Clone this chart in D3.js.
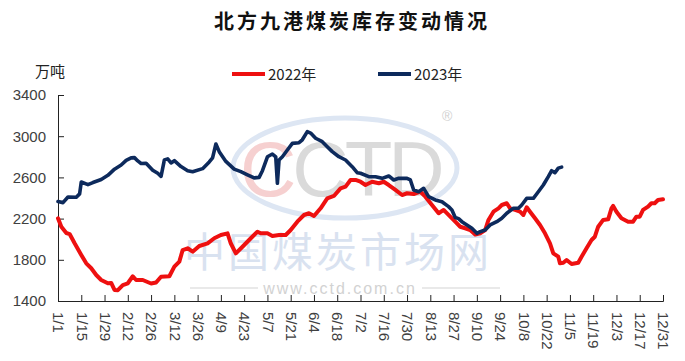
<!DOCTYPE html>
<html><head><meta charset="utf-8">
<script src="https://cdn.jsdelivr.net/npm/d3@7/dist/d3.min.js"></script>
<style>
html,body{margin:0;padding:0;background:#fff;}
svg{display:block;}
</style></head>
<body><svg id="c" width="685" height="361"></svg>
<script>
const title = "北方九港煤炭库存变动情况";
const unitLabel = "万吨";
const seriesNames = ["2022年", "2023年"];
const yTicks = [1400, 1800, 2200, 2600, 3000, 3400];
const xTickLabels = ["1/1","1/15","1/29","2/12","2/26","3/12","3/26","4/9","4/23","5/7","5/21","6/4","6/18","7/2","7/16","7/30","8/13","8/27","9/10","9/24","10/8","10/22","11/5","11/19","12/3","12/17","12/31"];
// day of year (0 = Jan 1) and stock values (10k tonnes)
const days2022 = [0,2,5,7,10,14,17,20,23,26,30,32,34,36,39,42,45,47,51,56,59,62,67,70,73,75,78,81,85,90,94,98,102,104,107,111,116,120,122,126,129,133,137,140,144,148,151,154,158,162,166,170,173,176,179,182,185,189,193,196,199,203,207,210,214,218,221,225,229,232,236,239,242,245,248,251,254,257,259,262,265,267,270,272,275,278,280,282,284,287,290,293,296,298,301,302,304,306,309,313,315,318,321,323,325,328,331,333,334,336,339,343,346,348,350,352,355,357,359,361,364];
const vals2022 = [2203,2120,2060,2050,1960,1847,1766,1718,1652,1604,1572,1575,1507,1505,1555,1572,1640,1604,1604,1570,1580,1636,1640,1733,1782,1895,1912,1879,1934,1960,2009,2041,2057,1958,1863,1927,2009,2073,2057,2057,2031,2041,2041,2089,2170,2235,2252,2225,2300,2397,2420,2494,2510,2575,2575,2558,2526,2558,2543,2558,2526,2478,2429,2446,2439,2461,2413,2332,2252,2284,2219,2170,2121,2106,2089,2045,2057,2089,2187,2267,2300,2332,2349,2300,2284,2267,2235,2310,2267,2203,2138,2057,1960,1863,1830,1766,1772,1798,1759,1772,1830,1912,1992,2024,2121,2187,2193,2300,2323,2267,2203,2170,2170,2219,2219,2284,2316,2349,2349,2381,2388];
const days2023 = [0,3,6,11,13,14,18,21,26,30,34,38,41,44,46,48,50,53,57,60,62,64,66,68,70,74,78,81,87,91,93,95,97,101,106,110,114,118,121,123,126,129,131,132,133,135,138,141,145,147,150,152,155,159,162,165,169,173,177,180,182,187,191,195,199,202,205,210,212,214,217,220,223,227,231,235,237,239,241,243,246,249,252,254,257,260,264,267,270,274,277,279,282,286,289,292,295,297,299,301,303];
const vals2023 = [2365,2355,2410,2408,2440,2555,2530,2550,2580,2620,2680,2720,2765,2790,2792,2760,2735,2737,2670,2640,2610,2770,2780,2740,2762,2705,2665,2655,2685,2750,2790,2924,2850,2755,2680,2656,2625,2595,2600,2665,2800,2827,2800,2543,2769,2800,2866,2930,2937,2965,3044,3030,2980,2947,2898,2850,2801,2769,2704,2646,2640,2607,2607,2591,2614,2575,2591,2591,2575,2478,2461,2494,2413,2381,2364,2316,2284,2210,2200,2170,2138,2106,2057,2073,2089,2138,2170,2203,2252,2300,2300,2332,2397,2397,2461,2526,2607,2665,2645,2690,2700];
const colors = ["#ee1010", "#0d2a5c"];

const svg = d3.select("#c");
const M = {left:58, right:663, top:95, bottom:301};
const x = d3.scaleLinear().domain([0,364]).range([M.left, M.right]);
const y = d3.scaleLinear().domain([1400,3400]).range([M.bottom, M.top]);
const CJK = "'Noto Sans CJK SC','Noto Sans',sans-serif";
const LAT = "'Liberation Sans',Arial,sans-serif";

// watermark
const wm = svg.append("g").attr("pointer-events","none");
wm.append("ellipse").attr("cx",345).attr("cy",168).attr("rx",112).attr("ry",50)
  .attr("fill","none").attr("stroke","#dde6f3").attr("stroke-width",5);
const logo = wm.append("text").attr("x",240).attr("y",196)
  .attr("font-family",LAT).attr("font-size",78).attr("letter-spacing",-4);
[["C","#f6d0d0"],["C","#dadada"],["T","#dadada"],["D","#dadada"]].forEach(d=>{
  logo.append("tspan").text(d[0]).attr("fill",d[1]);
});
wm.append("text").attr("x",442).attr("y",121).text("®").attr("font-family",LAT)
  .attr("font-size",14).attr("fill","#d0d0d0");
wm.append("text").attr("x",184).attr("y",267).text("中国煤炭市场网")
  .attr("font-family",CJK).attr("font-size",41).attr("fill","#d9e2f0").attr("letter-spacing",3);
wm.append("text").attr("x",340).attr("y",294).attr("text-anchor","middle").text("www.cctd.com.cn")
  .attr("font-family",LAT).attr("font-size",16).attr("fill","#d2d2d2").attr("letter-spacing",2);
wm.append("line").attr("x1",190).attr("x2",258).attr("y1",288).attr("y2",288).attr("stroke","#e2e2e2").attr("stroke-width",1.5);
wm.append("line").attr("x1",422).attr("x2",500).attr("y1",288).attr("y2",288).attr("stroke","#e2e2e2").attr("stroke-width",1.5);

// title
svg.append("text").attr("x",352).attr("y",29).attr("text-anchor","middle").text(title)
  .attr("font-family",CJK).attr("font-weight","bold").attr("font-size",20).attr("letter-spacing",3).attr("fill","#111");

// unit
svg.append("text").attr("x",35).attr("y",77).text(unitLabel)
  .attr("font-family",CJK).attr("font-size",15).attr("fill","#222");

// legend
const lg = svg.append("g");
const legendX = [232, 378];
seriesNames.forEach((n,i)=>{
  lg.append("line").attr("x1",legendX[i]).attr("x2",legendX[i]+33).attr("y1",74).attr("y2",74)
    .attr("stroke",colors[i]).attr("stroke-width",4);
  lg.append("text").attr("x",legendX[i]+36).attr("y",80).text(n)
    .attr("font-family",CJK).attr("font-size",15).attr("fill","#222");
});

// axes
const yAxis = d3.axisLeft(y).tickValues(yTicks).tickSize(-6).tickPadding(12).tickFormat(d3.format("d"));
const gy = svg.append("g").attr("transform",`translate(${M.left},0)`).call(yAxis);
gy.selectAll("text").attr("font-family",LAT).attr("font-size",15).attr("fill","#404040");
gy.selectAll("line,path").attr("stroke","#222");

const xAxis = d3.axisBottom(x).tickValues(d3.range(0,365,14)).tickSize(-6).tickFormat((d,i)=>xTickLabels[i]);
const gx = svg.append("g").attr("transform",`translate(0,${M.bottom})`).call(xAxis);
gx.selectAll("line,path").attr("stroke","#222");
gx.selectAll("text").attr("font-family",LAT).attr("font-size",15).attr("fill","#404040")
  .attr("text-anchor","start").attr("dy","0.35em")
  .attr("transform","translate(0,11) rotate(90)").attr("y",0).attr("x",0);

// lines
const line = d3.line().x(d=>x(d[0])).y(d=>y(d[1])).curve(d3.curveLinear);
const data = [d3.zip(days2022, vals2022), d3.zip(days2023, vals2023)];
svg.append("path").datum(data[0]).attr("d",line).attr("fill","none").attr("stroke",colors[0])
  .attr("stroke-width",4).attr("stroke-linejoin","round").attr("stroke-linecap","round");
svg.append("path").datum(data[1]).attr("d",line).attr("fill","none").attr("stroke",colors[1])
  .attr("stroke-width",3.6).attr("stroke-linejoin","round").attr("stroke-linecap","round");
</script></body></html>
